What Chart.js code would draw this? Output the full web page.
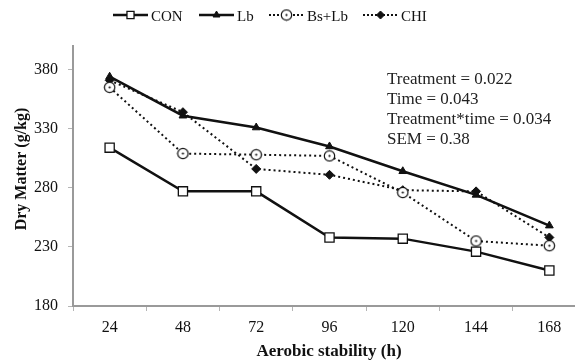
<!DOCTYPE html>
<html>
<head>
<meta charset="utf-8">
<script src="https://cdn.jsdelivr.net/npm/chart.js@4"></script>
<style>
  html, body { margin: 0; padding: 0; background: #fff; overflow: hidden; }
  #wrap { position: relative; width: 594px; height: 363px; }
</style>
</head>
<body>
<div id="wrap"><canvas id="c" width="594" height="363"></canvas></div>
<script>
// ---- data ----
const categories = ['24', '48', '72', '96', '120', '144', '168'];
const conValues  = [314, 277, 277, 238, 237, 226, 210];
const lbValues   = [374, 341, 331, 315, 294, 274, 248];
const bsLbValues = [365, 309, 308, 307, 276, 235, 231];
const chiValues  = [371, 344, 296, 291, 278, 277, 238];
const seriesNames = ['CON', 'Lb', 'Bs+Lb', 'CHI'];
const yTickValues = [180, 230, 280, 330, 380];
const statLines = ['Treatment = 0.022', 'Time = 0.043', 'Treatment*time = 0.034', 'SEM = 0.38'];
const xTitle = 'Aerobic stability (h)';
const yTitle = 'Dry Matter (g/kg)';

const SERIF = '"Liberation Serif", "Times New Roman", serif';
const INK = '#111';
const AXIS = '#9a9a9a';

// circle-with-dot point style
function makeDotCircle() {
  const cv = document.createElement('canvas');
  cv.width = 13; cv.height = 13;
  const g = cv.getContext('2d');
  g.fillStyle = '#fff';
  g.strokeStyle = INK;
  g.lineWidth = 1.2;
  g.beginPath(); g.arc(6.5, 6.5, 5.2, 0, Math.PI * 2); g.fill(); g.stroke();
  g.fillStyle = INK;
  g.beginPath(); g.arc(6.5, 6.5, 1.1, 0, Math.PI * 2); g.fill();
  return cv;
}
const dotCircle = makeDotCircle();

const datasets = [
  { label: seriesNames[0], data: conValues, borderColor: INK, borderWidth: 2.5,
    pointStyle: 'rect', pointRadius: 6.5, pointBackgroundColor: '#fff', pointBorderColor: INK, pointBorderWidth: 1.3, order: 1 },
  { label: seriesNames[1], data: lbValues, borderColor: INK, borderWidth: 2.5,
    pointStyle: 'triangle', pointRadius: 4.5, pointBackgroundColor: INK, pointBorderColor: INK, pointBorderWidth: 1, order: 2 },
  { label: seriesNames[2], data: bsLbValues, borderColor: INK, borderWidth: 2, borderDash: [2, 3],
    pointStyle: dotCircle, pointRadius: 6, order: 3 },
  { label: seriesNames[3], data: chiValues, borderColor: INK, borderWidth: 2, borderDash: [2, 3],
    pointStyle: 'rectRot', pointRadius: 4.5, pointBackgroundColor: INK, pointBorderColor: INK, pointBorderWidth: 1, order: 4 }
];

const decorPlugin = {
  id: 'decor',
  afterDraw(chart) {
    const ctx = chart.ctx;
    ctx.save();
    // legend
    const legendX = [113, 199, 269, 363];
    const ly = 15;
    ctx.font = '15px ' + SERIF;
    ctx.fillStyle = INK;
    ctx.textBaseline = 'alphabetic';
    chart.data.datasets.forEach((ds, i) => {
      const x0 = legendX[i], x1 = x0 + 35;
      ctx.save();
      ctx.strokeStyle = INK;
      ctx.lineWidth = ds.borderDash ? 2 : 2.5;
      ctx.setLineDash(ds.borderDash ? [2, 2] : []);
      ctx.beginPath(); ctx.moveTo(x0, ly); ctx.lineTo(x1, ly); ctx.stroke();
      ctx.restore();
      const opts = {
        pointStyle: ds.pointStyle,
        radius: ds.pointStyle === 'rect' ? 5 : 4,
        borderWidth: ds.pointBorderWidth || 1,
        rotation: 0
      };
      ctx.save();
      ctx.fillStyle = ds.pointBackgroundColor || '#fff';
      ctx.strokeStyle = ds.pointBorderColor || INK;
      ctx.lineWidth = opts.borderWidth;
      Chart.helpers.drawPoint(ctx, opts, (x0 + x1) / 2, ly);
      ctx.restore();
      ctx.fillStyle = INK;
      ctx.fillText(ds.label, x1 + 3, 20.5);
    });
    // stats text
    ctx.font = '17px ' + SERIF;
    ctx.fillStyle = '#222';
    statLines.forEach((t, i) => ctx.fillText(t, 387, 83.5 + i * 20));
    // axis titles
    ctx.font = 'bold 17px ' + SERIF;
    ctx.fillStyle = INK;
    ctx.textAlign = 'center';
    ctx.fillText(xTitle, 329, 356);
    ctx.save();
    ctx.translate(26, 169);
    ctx.rotate(-Math.PI / 2);
    ctx.font = 'bold 16px ' + SERIF;
    ctx.fillText(yTitle, 0, 0);
    ctx.restore();
    ctx.restore();
  }
};

new Chart(document.getElementById('c'), {
  type: 'line',
  data: { labels: categories, datasets },
  options: {
    responsive: false,
    animation: false,
    devicePixelRatio: 1,
    layout: { padding: { top: 46, right: 0, left: 0, bottom: 0 } },
    plugins: { legend: { display: false }, tooltip: { enabled: false } },
    elements: { line: { tension: 0, fill: false } },
    scales: {
      x: {
        type: 'category',
        offset: true,
        grid: { display: true, drawOnChartArea: false, offset: true, tickLength: 5, color: '#b5b5b5', lineWidth: 1 },
        border: { display: true, color: AXIS, width: 2 },
        ticks: { color: INK, font: { family: SERIF, size: 16 }, padding: 7, maxRotation: 0 },
        afterFit(s) { s.height = 57; }
      },
      y: {
        min: 180, max: 400,
        afterBuildTicks(s) { s.ticks = yTickValues.map(v => ({ value: v })); },
        grid: { display: true, drawOnChartArea: false, tickLength: 5, color: '#b5b5b5', lineWidth: 1 },
        border: { display: true, color: AXIS, width: 2 },
        ticks: { color: INK, font: { family: SERIF, size: 16 }, padding: 10 },
        afterFit(s) { s.width = 73; }
      }
    }
  },
  plugins: [decorPlugin]
});
</script>
</body>
</html>
